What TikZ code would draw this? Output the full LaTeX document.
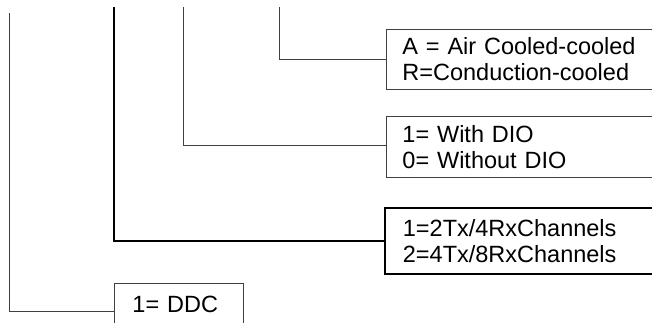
\documentclass[tikz,border=0pt]{standalone}
\usepackage{fontspec}
\setmainfont{Liberation Sans}
\begin{document}
\begin{tikzpicture}[
            x=1pt, y=-1pt,
            box/.style={rectangle, draw=black!75, line width=0.9pt, anchor=north west, align=left, inner xsep=16pt, inner ysep=0pt, text width=262pt, font=\fontsize{23.5}{26}\selectfont},
            heavybox/.style={box, draw=black, line width=1.8pt},
            link/.style={draw=black!75, line width=0.9pt},
            heavylink/.style={draw=black, line width=1.8pt}
        ]
            \clip (0,0) rectangle (652,322);
            \node[box, minimum height=60pt] (cooling) at (386,29) {A = Air Cooled-cooled\\R=Conduction-cooled};
            \node[box, minimum height=61pt] (dio) at (386,116) {1= With DIO\\0= Without DIO};
            \node[heavybox, minimum height=66pt, inner xsep=18pt] (channels) at (384,207) {1=2Tx/4RxChannels\\2=4Tx/8RxChannels};
            \node[box, minimum height=42pt, inner xsep=18pt, text width=93pt] (ddc) at (114,283) {1= DDC};

            \coordinate (top1) at (9,13);
            \coordinate (top2) at (114,7);
            \coordinate (top3) at (183,7);
            \coordinate (top4) at (279,7);

            \draw[link] (top1) |- ([yshift=-7pt]ddc.west);
            \draw[heavylink] (top2) |- (channels.west);
            \draw[link] (top3) |- ([yshift=2pt]dio.west);
            \draw[link] (top4) |- (cooling.west);
        \end{tikzpicture}
\end{document}
